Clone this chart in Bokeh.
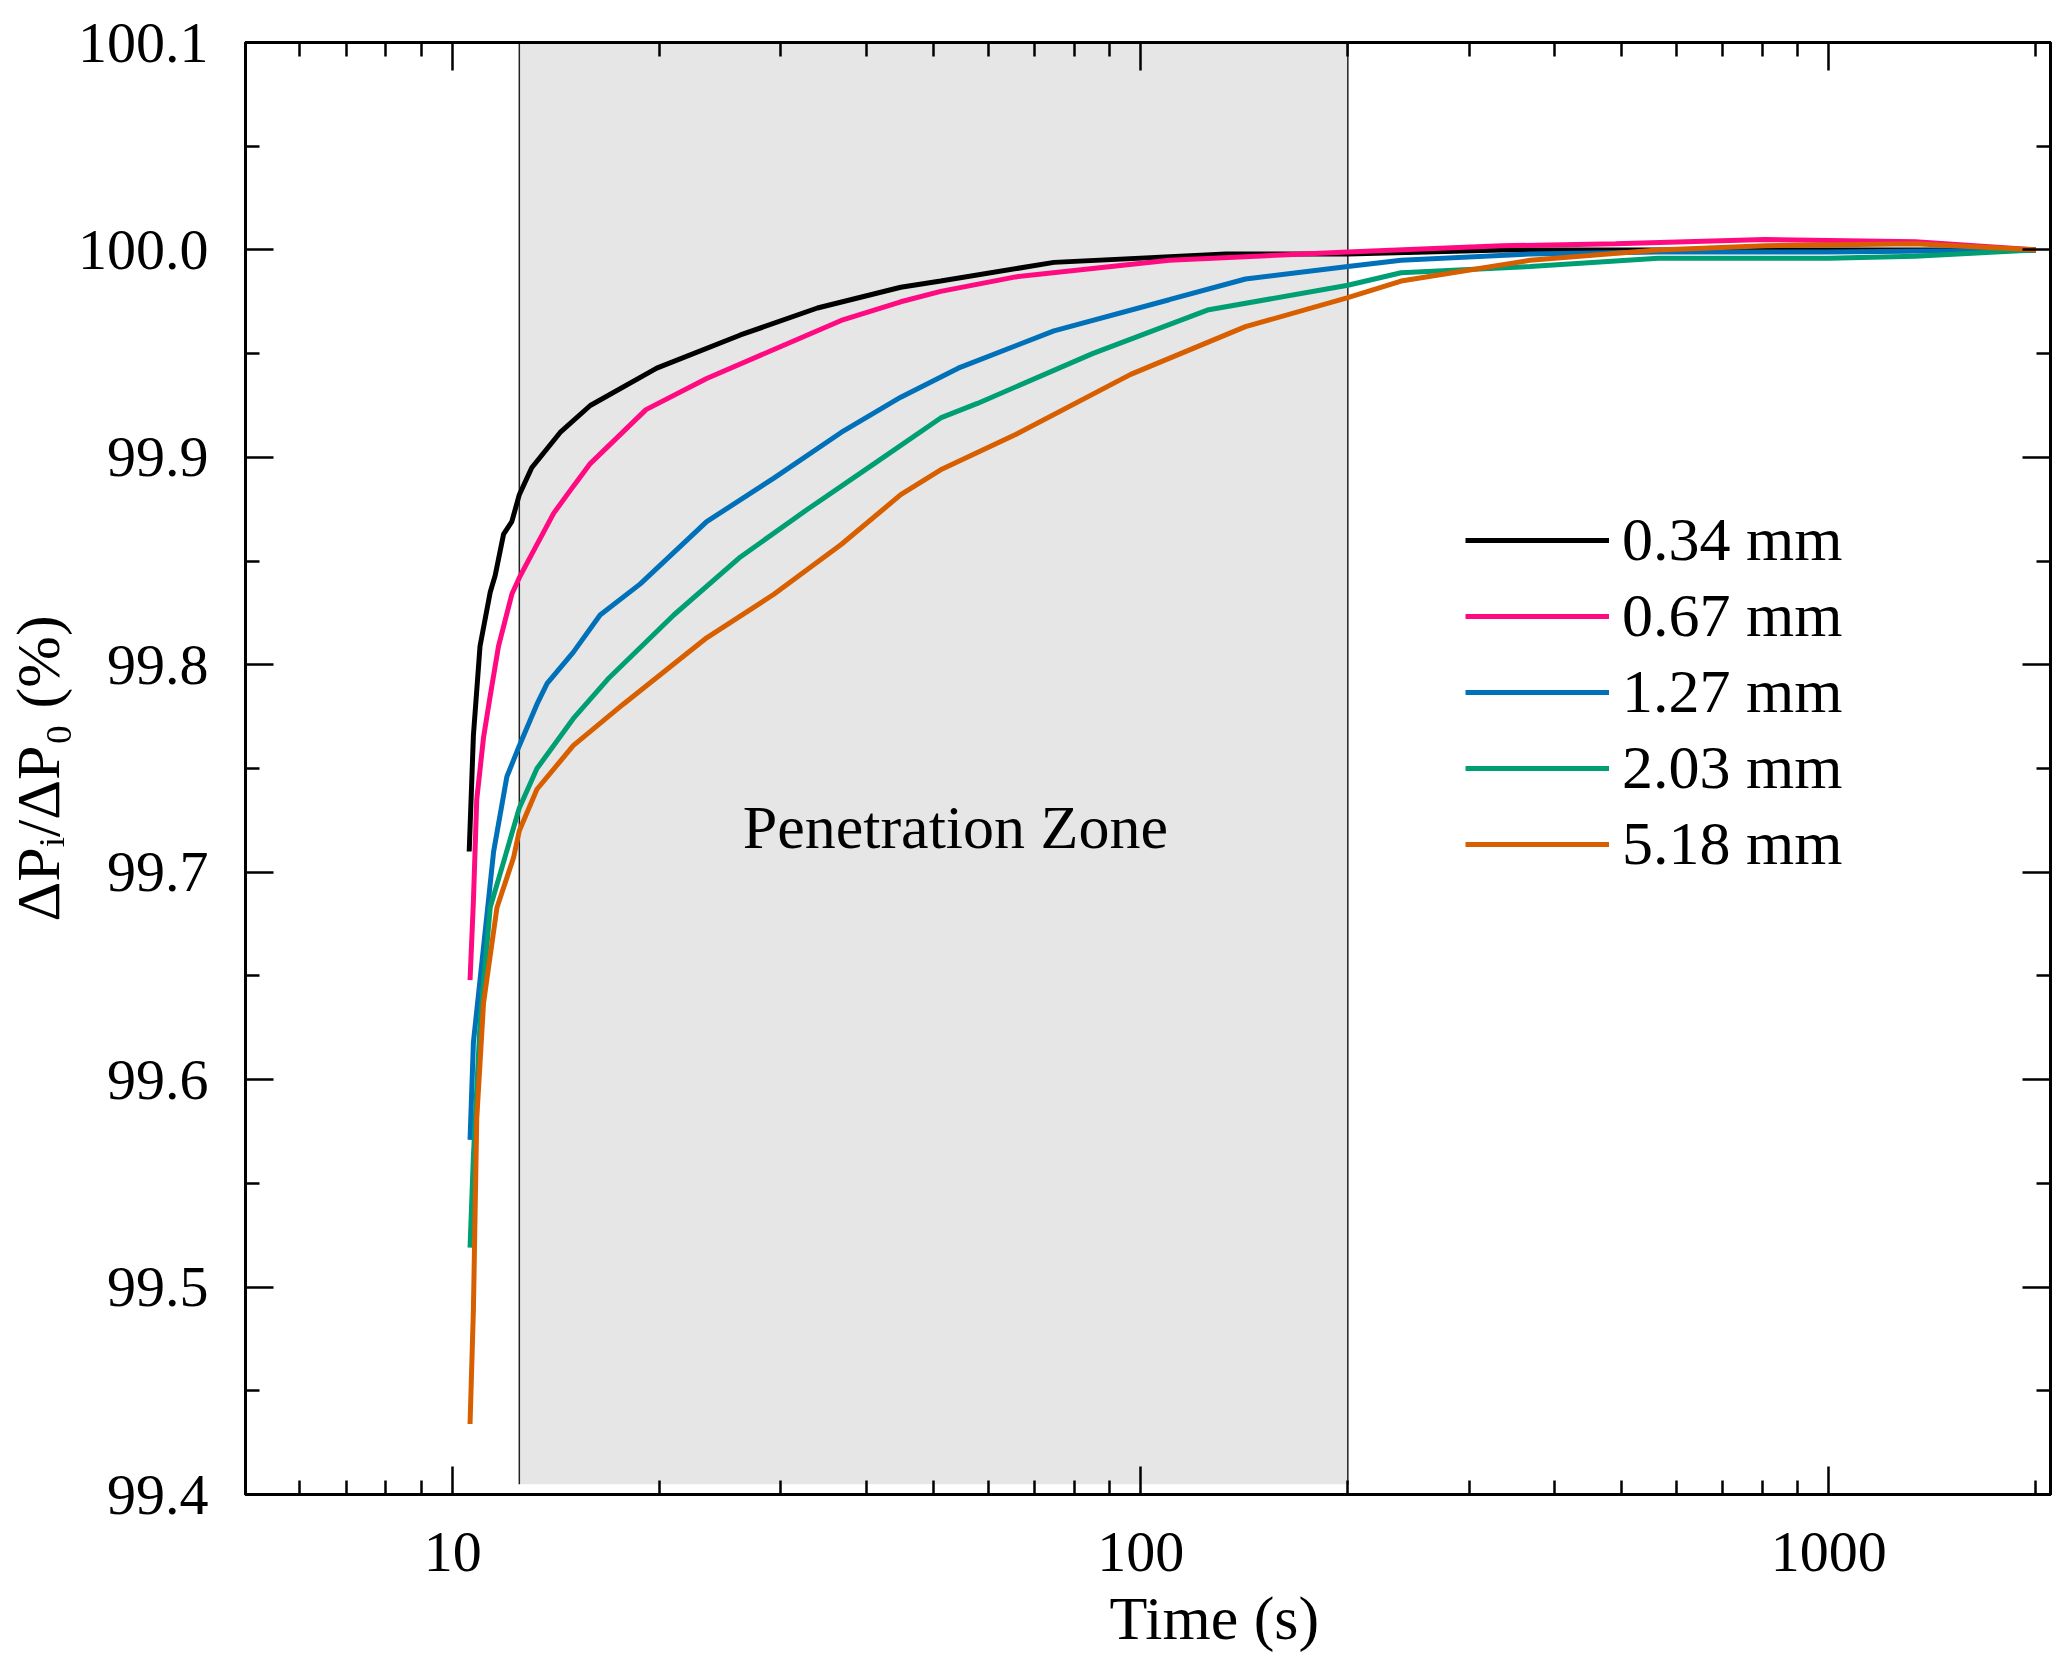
from bokeh.plotting import figure
from bokeh.models import (Range1d, LogAxis, LinearAxis, FixedTicker, PrintfTickFormatter,
                          CustomJSTickFormatter, Legend, LegendItem, Label, Title)
from bokeh.embed import file_html
from bokeh.resources import INLINE

FONT = "Liberation Serif"

# time (s) and normalised pressure drop (%)
t_034 = [10.57, 10.72, 10.96, 11.34, 11.53, 11.86, 12.19, 12.5, 13.03, 14.33, 15.85, 19.8,
         26.2, 33.9, 44.8, 51.2, 74.8, 133, 200, 335, 490, 808, 1336, 2000]
v_034 = [99.710, 99.766, 99.809, 99.835, 99.843, 99.863, 99.869, 99.882, 99.895, 99.912,
         99.925, 99.943, 99.959, 99.972, 99.982, 99.985, 99.994, 99.998, 99.998, 100.0,
         100.0, 100.0, 100.0, 100.0]

t_067 = [10.6, 10.72, 10.84, 11.09, 11.34, 11.66, 12.19, 12.5, 12.97, 14.02, 14.97, 15.85,
         19.1, 23.4, 29.3, 36.7, 44.8, 51.2, 65.8, 110, 200, 335, 490, 808, 1336, 2000]
v_067 = [99.648, 99.686, 99.735, 99.765, 99.785, 99.809, 99.834, 99.842, 99.852, 99.873,
         99.886, 99.897, 99.923, 99.938, 99.952, 99.966, 99.975, 99.980, 99.987, 99.995,
         99.999, 100.002, 100.003, 100.005, 100.004, 100.0]

t_127 = [10.6, 10.72, 11.09, 11.47, 11.99, 12.5, 13.26, 13.72, 14.97, 16.38, 18.74, 23.4,
         29.3, 36.7, 44.8, 54.3, 74.8, 110, 142, 200, 239, 368, 565, 1000, 2000]
v_127 = [99.571, 99.618, 99.664, 99.710, 99.746, 99.761, 99.781, 99.791, 99.806, 99.824,
         99.839, 99.869, 99.890, 99.912, 99.929, 99.943, 99.961, 99.976, 99.986, 99.992,
         99.995, 99.998, 99.999, 99.999, 100.0]

t_203 = [10.6, 10.72, 10.96, 11.34, 11.86, 12.5, 13.26, 14.97, 16.8, 20.96, 26.2, 32.8,
         41.0, 51.2, 57.9, 85.1, 125, 200, 239, 368, 565, 1000, 1336, 2000]
v_203 = [99.519, 99.563, 99.627, 99.683, 99.705, 99.731, 99.750, 99.774, 99.793, 99.824,
         99.852, 99.875, 99.897, 99.919, 99.926, 99.950, 99.971, 99.983, 99.989, 99.992,
         99.996, 99.996, 99.997, 100.0]

t_518 = [10.6, 10.72, 10.84, 11.09, 11.6, 12.26, 12.5, 13.26, 14.97, 17.7, 23.4, 29.3,
         36.7, 44.8, 51.2, 65.8, 96.7, 142, 200, 239, 368, 565, 808, 1336, 2000]
v_518 = [99.434, 99.489, 99.581, 99.637, 99.683, 99.707, 99.720, 99.740, 99.761, 99.781,
         99.813, 99.834, 99.858, 99.882, 99.894, 99.911, 99.940, 99.963, 99.977, 99.985,
         99.995, 100.0, 100.002, 100.003, 100.0]

labels = ["0.34 mm", "0.67 mm", "1.27 mm", "2.03 mm", "5.18 mm"]
colors = ["#000000", "#ff0a80", "#0070b8", "#009e73", "#d85f00"]

zone_start, zone_end = 12.5, 200
zone_bottom = 99.405

x_major = [10, 100, 1000]
x_minor = [6, 7, 8, 9, 20, 30, 40, 50, 60, 70, 80, 90,
           200, 300, 400, 500, 600, 700, 800, 900, 2000]
y_major = [99.4, 99.5, 99.6, 99.7, 99.8, 99.9, 100.0, 100.1]
y_minor = [99.45, 99.55, 99.65, 99.75, 99.85, 99.95, 100.05]

p = figure(x_axis_type="log", frame_width=1805, frame_height=1452,
           x_range=Range1d(5, 2100), y_range=Range1d(99.4, 100.1),
           output_backend="svg", toolbar_location=None,
           min_border_left=236, min_border_top=42, min_border_right=10, min_border_bottom=20)
p.xgrid.visible = False
p.ygrid.visible = False
p.outline_line_color = "black"
p.outline_line_width = 3
p.background_fill_color = "white"
p.border_fill_color = "white"

bottom = p.below[0]
left = p.left[0]

# shaded penetration zone
p.quad(left=[zone_start], right=[zone_end], bottom=[zone_bottom], top=[100.1],
       fill_color="#e6e6e6", line_color=None)
p.segment(x0=[zone_start, zone_end], y0=[zone_bottom, zone_bottom],
          x1=[zone_start, zone_end], y1=[100.1, 100.1], line_color="#222222", line_width=1.5)

p.add_layout(Label(x=26.4, y=99.722, text="Penetration Zone", text_font=FONT,
                   text_font_size="62px", text_color="black",
                   text_baseline="alphabetic", text_align="left"))

series = [(t_034, v_034), (t_067, v_067), (t_127, v_127), (t_203, v_203), (t_518, v_518)]
renderers = []
for (ts, vs), c in zip(series, colors):
    renderers.append(p.line(ts, vs, line_color=c, line_width=5))

legend = Legend(items=[LegendItem(label=l, renderers=[r]) for l, r in zip(labels, renderers)],
                location=(1220, 615))
legend.glyph_width = 144
legend.glyph_height = 62
legend.label_height = 62
legend.label_standoff = 13
legend.spacing = 5
legend.padding = 0
legend.margin = 0
legend.border_line_alpha = 0
legend.background_fill_alpha = 0
legend.label_text_font = FONT
legend.label_text_font_size = "62px"
legend.label_text_color = "black"
p.add_layout(legend)

xtick = FixedTicker(ticks=x_major, minor_ticks=x_minor)
ytick = FixedTicker(ticks=y_major, minor_ticks=y_minor)

top = LogAxis()
right = LinearAxis()
p.add_layout(top, "above")
p.add_layout(right, "right")

bottom.ticker = xtick
top.ticker = xtick
left.ticker = ytick
right.ticker = ytick

bottom.formatter = PrintfTickFormatter(format="%d")
left.formatter = PrintfTickFormatter(format="%.1f")
top.formatter = CustomJSTickFormatter(code="return ''")
right.formatter = CustomJSTickFormatter(code="return ''")

for ax in [bottom, left, top, right]:
    ax.axis_line_width = 3
    ax.axis_line_color = "black"
    ax.major_tick_in = 28
    ax.major_tick_out = 0
    ax.minor_tick_in = 14
    ax.minor_tick_out = 0
    ax.major_tick_line_width = 2.5
    ax.minor_tick_line_width = 2.5
    ax.major_label_text_font = FONT
    ax.major_label_text_font_size = "58px"
    ax.major_label_text_color = "black"
    ax.axis_label_text_font = FONT
    ax.axis_label_text_font_size = "62px"
    ax.axis_label_text_font_style = "normal"
    ax.axis_label_text_color = "black"

for ax in [top, right]:
    ax.major_label_standoff = 0

bottom.major_label_standoff = 38
left.axis_label = "ΔPᵢ/ΔP₀ (%)"
left.major_label_standoff = 37
left.axis_label_standoff = 3

# x title sits right of the frame centre in the original
xtitle = Title(text="Time (s)", align="left", offset=864, standoff=16,
               text_font=FONT, text_font_size="62px", text_font_style="normal",
               text_color="black")
p.add_layout(xtitle, "below")

open("out.html", "w").write(file_html(p, INLINE))
